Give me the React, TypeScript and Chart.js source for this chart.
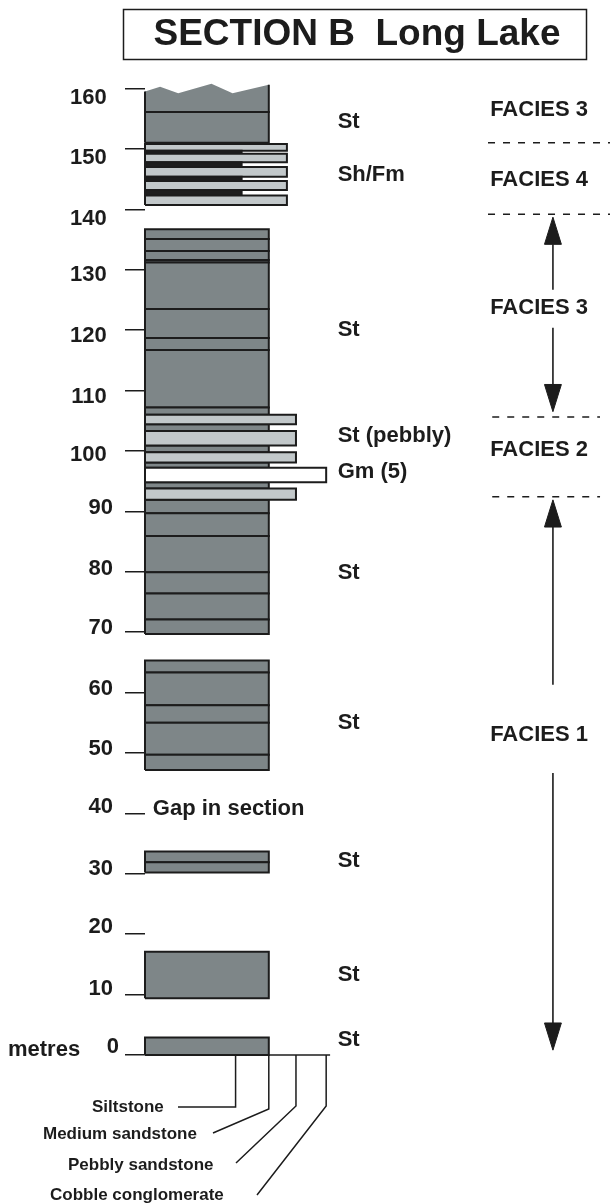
import React, { useEffect, useRef } from 'react';
import { Chart, registerables } from 'chart.js';

Chart.register(...registerables);

// ---------------- DATA ----------------
const TITLE = 'SECTION B  Long Lake';
const DEPTH_TICKS = [0, 10, 20, 30, 40, 50, 60, 70, 80, 90, 100, 110, 120, 130, 140, 150, 160];

// grain-size classes shown in the key (x position along grain axis)
const GRAIN_NAMES = ['Siltstone', 'Medium sandstone', 'Pebbly sandstone', 'Cobble conglomerate'];
const GRAIN_VALUES = [3.0, 4.1, 5.0, 6.0];

// beds: base, top (metres) and lithology code
const BED_BASE = [0, 9.4, 30.2, 31.9, 47.2, 49.7, 55.0, 57.9, 63.3, 69.7, 72.1, 76.4, 79.9, 85.9, 89.7, 91.9, 93.8, 94.8, 97.2, 98.1, 99.8, 100.9, 103.3, 104.4, 106.0, 107.2, 116.7, 118.7, 123.5, 131.2, 131.6, 133.1, 135.1, 140.7, 142.3, 143.2, 144.7, 145.4, 147.0, 147.8, 149.2, 149.7, 151.0];
const BED_TOP = [2.9, 17.1, 31.9, 33.7, 49.7, 55.0, 57.9, 63.3, 65.3, 72.1, 76.4, 79.9, 85.9, 89.7, 91.9, 93.8, 94.8, 97.2, 98.1, 99.8, 100.9, 103.3, 104.4, 106.0, 107.2, 116.7, 118.7, 123.5, 131.2, 131.6, 133.1, 135.1, 136.7, 142.3, 143.2, 144.7, 145.4, 147.0, 147.8, 149.2, 149.7, 150.8, 156.1];
const BED_LITH = ['St', 'St', 'St', 'St', 'St', 'St', 'St', 'St', 'St', 'St', 'St', 'St', 'St', 'St', 'St', 'Sp', 'St', 'Gm', 'St', 'Sp', 'St', 'Sp', 'St', 'Sp', 'St', 'St', 'St', 'St', 'St', 'St', 'St', 'St', 'St', 'Sh', 'Fm', 'Sh', 'Fm', 'Sh', 'Fm', 'Sh', 'Fm', 'Sh', 'St'];

// eroded top bed (irregular upper surface)
const TOP_BED_BASE = 156.1;
const TOP_SURFACE_X = [0, 0.5, 1.1, 2.2, 2.9, 4.1];
const TOP_SURFACE_Y = [159.5, 160.3, 159.2, 160.8, 159.2, 160.6];

// lithofacies labels
const LITHO_LABELS = ['St', 'Sh/Fm', 'St', 'St (pebbly)', 'Gm (5)', 'St', 'St', 'St', 'St', 'St'];
const LITHO_LABEL_DEPTH = [154.4, 145.7, 120.0, 102.5, 96.5, 79.8, 55.0, 32.1, 13.2, 2.5];
const GAP_LABEL = 'Gap in section';
const GAP_LABEL_DEPTH = 40.7;

// facies
const FACIES_LABELS = ['FACIES 3', 'FACIES 4', 'FACIES 3', 'FACIES 2', 'FACIES 1'];
const FACIES_LABEL_DEPTH = [156.4, 144.9, 123.7, 100.2, 53.0];
const FACIES_BOUNDS = [151.0, 139.2, 105.6, 92.4];
const ARROW_FROM = [126.7, 120.4, 61.3, 46.7];
const ARROW_TO = [138.7, 106.5, 91.9, 0.8];

// ---------------- STYLE ----------------
const INK = '#1c1c1c';
const FONT = '"Liberation Sans", Arial, Helvetica, sans-serif';
const LITH_GRAIN: Record<string, number> = { St: 4.1, Sp: 5.0, Gm: 6.0, Fm: 3.2, Sh: 4.7 };
const LITH_FILL: Record<string, string> = { St: '#7e8688', Sp: '#c2c8ca', Gm: '#ffffff', Fm: '#1e1e1e', Sh: '#c2c8ca' };
const TICK_SHIFT: Record<number, number> = { 160: 9, 150: 9, 140: 10, 130: 5, 120: 6, 110: 6, 100: 4, 90: -3, 80: -3, 70: -4, 60: -4, 50: -4, 40: -6, 30: -5, 20: -7, 10: -6, 0: -8 };
const X_MAX = 15.4;
const Y_MAX = 162;
const LABEL_X = 6.38;
const GAP_X = 0.26;
const FACIES_X = 13.05;
const ARROW_X = 13.51;
const HEAD_LEN = 4.5; // metres
const HEAD_HALF = 0.28; // grain units
const DASH_X0 = [11.36, 11.36, 11.5, 11.5];
const DASH_X1 = [15.4, 15.4, 15.07, 15.07];

const lineBase = {
  type: 'line' as const,
  pointRadius: 0,
  pointHoverRadius: 0,
  pointHitRadius: 0,
  tension: 0,
  clip: false as const,
  borderJoinStyle: 'miter' as const,
  borderCapStyle: 'butt' as const,
};

function rect(b: number, t: number, g: number) {
  return [
    { x: 0, y: b },
    { x: g, y: b },
    { x: g, y: t },
    { x: 0, y: t },
    { x: 0, y: b },
  ];
}

function buildDatasets() {
  const ds: any[] = [];
  BED_BASE.forEach((b, i) => {
    const lith = BED_LITH[i];
    ds.push({
      ...lineBase,
      data: rect(b, BED_TOP[i], LITH_GRAIN[lith]),
      fill: 'shape',
      backgroundColor: LITH_FILL[lith],
      borderColor: INK,
      borderWidth: 2,
      order: lith === 'St' ? 3 : 2,
    });
  });
  // eroded top bed fill
  const topPoly = [{ x: 0, y: TOP_BED_BASE }, { x: 4.1, y: TOP_BED_BASE }];
  for (let i = TOP_SURFACE_X.length - 1; i >= 0; i--) topPoly.push({ x: TOP_SURFACE_X[i], y: TOP_SURFACE_Y[i] });
  topPoly.push({ x: 0, y: TOP_BED_BASE });
  ds.push({ ...lineBase, data: topPoly, fill: 'shape', backgroundColor: LITH_FILL.St, borderWidth: 0, borderColor: 'rgba(0,0,0,0)', order: 3 });
  ds.push({
    ...lineBase,
    data: [
      { x: 0, y: TOP_SURFACE_Y[0] },
      { x: 0, y: TOP_BED_BASE },
      { x: 4.1, y: TOP_BED_BASE },
      { x: 4.1, y: TOP_SURFACE_Y[TOP_SURFACE_Y.length - 1] },
    ],
    fill: false,
    borderColor: INK,
    borderWidth: 2,
    order: 1,
  });
  // base line of grain-size axis
  ds.push({ ...lineBase, data: [{ x: 0, y: 0 }, { x: 6.13, y: 0 }], fill: false, borderColor: INK, borderWidth: 1.5, order: 1 });
  // facies boundaries
  FACIES_BOUNDS.forEach((b, i) => {
    ds.push({ ...lineBase, data: [{ x: DASH_X0[i], y: b }, { x: DASH_X1[i], y: b }], fill: false, borderColor: INK, borderWidth: 1.5, borderDash: [7, 8], order: 1 });
  });
  // arrows
  ARROW_FROM.forEach((f, i) => {
    const t = ARROW_TO[i];
    const dir = t > f ? 1 : -1;
    const hb = t - dir * HEAD_LEN;
    ds.push({ ...lineBase, data: [{ x: ARROW_X, y: f }, { x: ARROW_X, y: hb }], fill: false, borderColor: INK, borderWidth: 1.6, order: 1 });
    ds.push({
      ...lineBase,
      data: [
        { x: ARROW_X - HEAD_HALF, y: hb },
        { x: ARROW_X + HEAD_HALF, y: hb },
        { x: ARROW_X, y: t },
        { x: ARROW_X - HEAD_HALF, y: hb },
      ],
      fill: 'shape',
      backgroundColor: INK,
      borderColor: INK,
      borderWidth: 1,
      order: 1,
    });
  });
  return ds;
}

const annotate = {
  id: 'annotate',
  afterDraw(chart: any) {
    const ctx = chart.ctx as CanvasRenderingContext2D;
    const xs = chart.scales.x;
    const ys = chart.scales.y;
    ctx.save();
    ctx.fillStyle = INK;
    ctx.strokeStyle = INK;
    // title box
    ctx.lineWidth = 1.5;
    ctx.strokeRect(123.5, 9.5, 463, 50);
    ctx.font = `bold 37px ${FONT}`;
    ctx.textAlign = 'center';
    ctx.textBaseline = 'middle';
    ctx.fillText(TITLE, 357, 35);

    // lithofacies labels
    ctx.font = `bold 22px ${FONT}`;
    ctx.textAlign = 'left';
    LITHO_LABELS.forEach((s, i) => {
      ctx.fillText(s, xs.getPixelForValue(LABEL_X), ys.getPixelForValue(LITHO_LABEL_DEPTH[i]));
    });
    ctx.fillText(GAP_LABEL, xs.getPixelForValue(GAP_X), ys.getPixelForValue(GAP_LABEL_DEPTH));
    ctx.fillText('metres', 8, ys.getPixelForValue(0) - 5);

    // facies labels
    ctx.textAlign = 'center';
    FACIES_LABELS.forEach((s, i) => {
      ctx.fillText(s, xs.getPixelForValue(FACIES_X), ys.getPixelForValue(FACIES_LABEL_DEPTH[i]));
    });

    // grain-size key
    const y0 = ys.getPixelForValue(0);
    const drops = [52, 54, 51, 51];
    const ends = [
      [178, y0 + 52],
      [213, y0 + 78],
      [236, y0 + 108],
      [257, y0 + 140],
    ];
    const labelPos = [
      [92, y0 + 52],
      [43, y0 + 79],
      [68, y0 + 110],
      [50, y0 + 140],
    ];
    ctx.lineWidth = 1.5;
    GRAIN_VALUES.forEach((g, i) => {
      const gx = xs.getPixelForValue(g);
      ctx.beginPath();
      ctx.moveTo(gx, y0);
      ctx.lineTo(gx, y0 + drops[i]);
      ctx.lineTo(ends[i][0], ends[i][1]);
      ctx.stroke();
    });
    ctx.font = `bold 17px ${FONT}`;
    ctx.textAlign = 'left';
    GRAIN_NAMES.forEach((s, i) => {
      ctx.fillText(s, labelPos[i][0], labelPos[i][1]);
    });
    ctx.restore();
  },
};

export default function App() {
  const ref = useRef<HTMLCanvasElement | null>(null);
  useEffect(() => {
    if (!ref.current) return;
    const chart = new Chart(ref.current, {
      type: 'line',
      data: { datasets: buildDatasets() },
      options: {
        animation: false,
        responsive: false,
        devicePixelRatio: 1,
        events: [],
        layout: { padding: { left: 0, right: 0, top: 76.4, bottom: 148 } },
        plugins: { legend: { display: false }, tooltip: { enabled: false }, title: { display: false } },
        scales: {
          x: { type: 'linear', min: 0, max: X_MAX, display: false },
          y: {
            type: 'linear',
            position: 'left',
            min: 0,
            max: Y_MAX,
            afterBuildTicks: (scale: any) => {
              scale.ticks = DEPTH_TICKS.map((v) => ({ value: v }));
            },
            afterFit: (scale: any) => {
              scale.width = 145;
            },
            border: { display: false },
            grid: { drawOnChartArea: false, drawTicks: true, tickLength: 20, tickColor: INK, tickWidth: 1.5, lineWidth: 1.5 },
            ticks: {
              autoSkip: false,
              padding: 6,
              color: INK,
              font: (c: any) => {
                const v = c.tick ? c.tick.value : 0;
                const sh = Math.abs(TICK_SHIFT[v] ?? 0);
                return { family: FONT, size: 22, weight: 'bold', lineHeight: sh ? `${2 * sh}px` : 1.2 } as any;
              },
              callback: (v: any) => {
                const s = String(v);
                const label = s + ' '.repeat(s.length - 1);
                const sh = TICK_SHIFT[Number(v)] ?? 0;
                if (sh > 0) return ['', label];
                if (sh < 0) return [label, ''];
                return label;
              },
            },
          },
        },
      },
      plugins: [annotate],
    } as any);
    return () => chart.destroy();
  }, []);
  return (
    <div style={{ position: 'absolute', left: 0, top: 0, width: 610, height: 1203 }}>
      <canvas ref={ref} width={610} height={1203} style={{ display: 'block' }} />
    </div>
  );
}
